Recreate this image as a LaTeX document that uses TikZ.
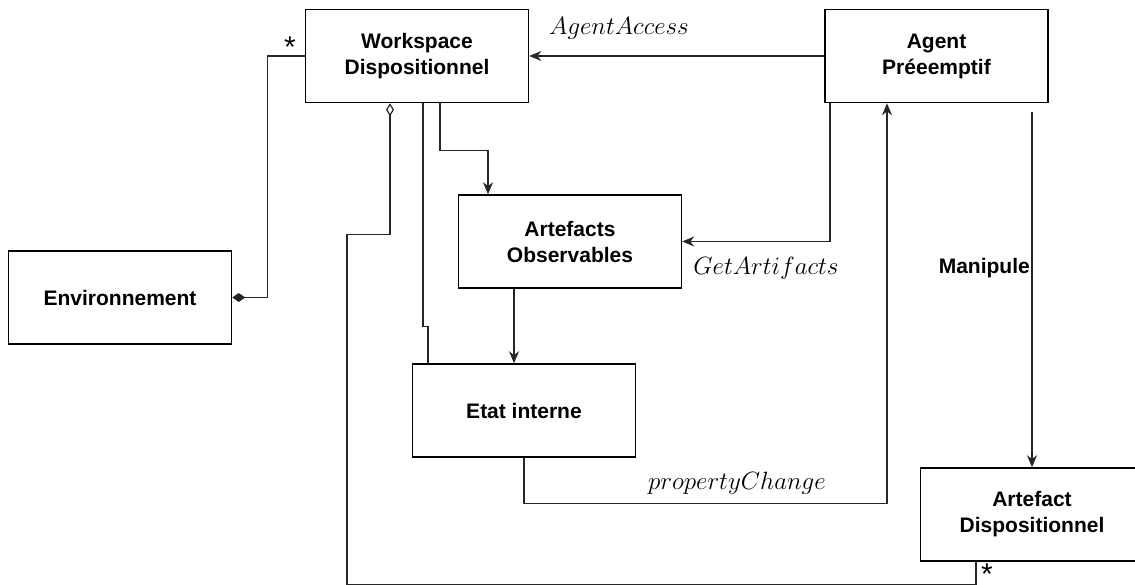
\documentclass[tikz,border=0pt]{standalone}
\usepackage{fix-cm}
\usepackage{fontspec}
\setsansfont{Liberation Sans}
\usetikzlibrary{arrows.meta}
\tikzset{
  box/.style={draw=black, line width=1.5pt, fill=white, minimum width=223pt, minimum height=93pt,
    align=center, inner sep=0pt, font=\sffamily\bfseries\fontsize{21}{26}\selectfont},
  conn/.style={draw=black!85, line width=1.4pt},
  arr/.style={conn, -{Stealth[length=12pt,width=10pt]}},
  mathlbl/.style={inner sep=0pt, font=\fontsize{25}{30}\selectfont},
  sflbl/.style={inner sep=0pt, font=\sffamily\bfseries\fontsize{21}{26}\selectfont},
  starlbl/.style={inner sep=0pt, font=\sffamily\fontsize{30}{30}\selectfont},
}
\begin{document}
\begin{tikzpicture}[x=1pt,y=-1pt]
\useasboundingbox (0,0) rectangle (1135,585);
\clip (0,0) rectangle (1135,585);

% nodes
\node[box] (ws) at (417,56) {Workspace\\Dispositionnel};
\node[box] (ag) at (936.5,56) {Agent\\Préeemptif};
\node[box] (ao) at (570,241.5) {Artefacts\\Observables};
\node[box] (env) at (120,297.5) {Environnement};
\node[box] (ei) at (524,410.5) {Etat interne};
\node[box] (ad) at (1032,514.5) {Artefact\\Dispositionnel};

% connectors
\draw[arr] (ag.west) -- (ws.east);
\draw[arr] ([xshift=23pt]ws.south) -- ++(0,47) -| ([xshift=-82pt]ao.north);
\draw[arr] ([xshift=-106.5pt]ag.south) |- (ao.east);
\draw[arr] ([xshift=-56pt]ao.south) -- ([xshift=-10pt]ei.north);
\draw[conn] ([xshift=6pt]ws.south) -- ++(0,223) -- ++(5,0) -- ([xshift=-96pt]ei.north);
\draw[conn, {Diamond[open,length=13pt,width=8pt,line width=1.2pt]}-] ([xshift=-27pt]ws.south) -- ++(0,131) -- ++(-43,0) -- ++(0,350) -| ([xshift=-56pt]ad.south);
\draw[conn, -{Diamond[length=13pt,width=9pt]}] (ws.west) -- ++(-37,0) |- (env.east);
\draw[arr] (ei.south) -- ++(0,46) -| ([xshift=-49.5pt]ag.south);
\coordinate (mtop) at (ad.north |- 0,112);
\draw[arr] (mtop) -- (ad.north);

% labels
\node[mathlbl] (l1) at (619,28) {$AgentAccess$};
\node[mathlbl] (l2) at (766,268) {$GetArtifacts$};
\node[mathlbl] (l3) at (737,483) {$propertyChange$};
\node[sflbl, anchor=east] (l4) at (1030,268) {Manipule};
\node[starlbl] (s1) at (290,47) {*};
\node[starlbl] (s2) at (987,574) {*};
\end{tikzpicture}
\end{document}
